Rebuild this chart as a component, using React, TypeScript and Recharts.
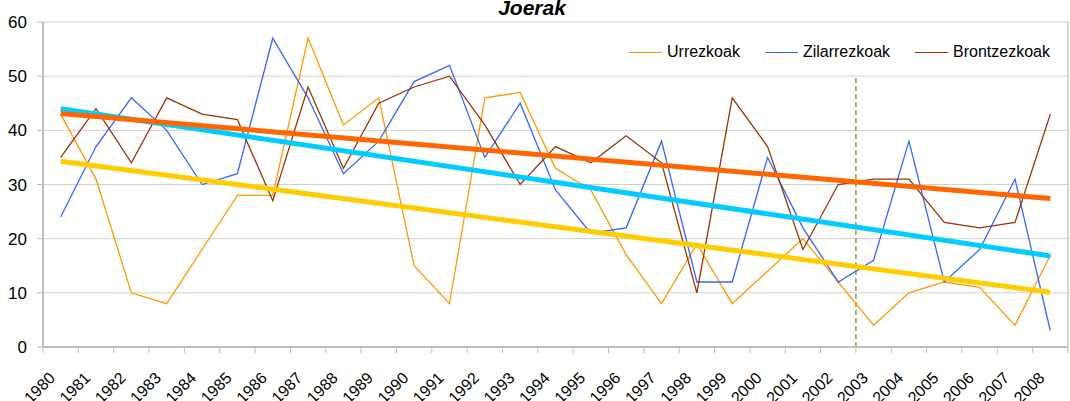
import {
  CartesianGrid,
  Legend,
  Line,
  LineChart,
  ReferenceLine,
  XAxis,
  YAxis,
} from "recharts";

const years = [
  "1980", "1981", "1982", "1983", "1984", "1985", "1986", "1987", "1988", "1989",
  "1990", "1991", "1992", "1993", "1994", "1995", "1996", "1997", "1998", "1999",
  "2000", "2001", "2002", "2003", "2004", "2005", "2006", "2007", "2008",
];
const seriesNames = ["Urrezkoak", "Zilarrezkoak", "Brontzezkoak"];
const urrezkoak = [43, 31, 10, 8, 18, 28, 28, 57, 41, 46, 15, 8, 46, 47, 33, 29, 17, 8, 19, 8, 14, 20, 12, 4, 10, 12, 11, 4, 17];
const zilarrezkoak = [24, 37, 46, 40, 30, 32, 57, 46, 32, 38, 49, 52, 35, 45, 29, 21, 22, 38, 12, 12, 35, 22, 12, 16, 38, 12, 18, 31, 3];
const brontzezkoak = [35, 44, 34, 46, 43, 42, 27, 48, 33, 45, 48, 50, 41, 30, 37, 34, 39, 34, 10, 46, 37, 18, 30, 31, 31, 23, 22, 23, 43];
// trend lines: value at first and last year
const trendUrre = [34.3, 10.1];
const trendZilar = [44.0, 16.8];
const trendBrontze = [43.1, 27.4];
const yTicks = [0, 10, 20, 30, 40, 50, 60];
const markerYear = "2003";

const FONT = "'Liberation Sans', Arial, sans-serif";
const last = years.length - 1;
const ends = (t: number[], i: number) => (i === 0 ? t[0] : i === last ? t[1] : null);

const data = years.map((year, i) => ({
  i,
  year,
  u: urrezkoak[i],
  z: zilarrezkoak[i],
  b: brontzezkoak[i],
  tu: ends(trendUrre, i),
  tz: ends(trendZilar, i),
  tb: ends(trendBrontze, i),
}));
const xTicks = [...years.map((_, i) => i - 0.5), last + 0.5];
const markerX = years.indexOf(markerYear) - 0.5;

function YearTick({ x, y, payload }: any) {
  const label = years[payload.value + 0.5];
  if (!label) return null;
  const ax = x + 13;
  const ay = y + 24;
  return (
    <text
      x={ax}
      y={ay}
      transform={`rotate(-45 ${ax} ${ay})`}
      textAnchor="end"
      fontSize={16}
      fontFamily={FONT}
      fill="#000"
    >
      {label}
    </text>
  );
}

function LegendBox({ payload }: any) {
  const items = (payload || [])
    .filter((p: any) => seriesNames.includes(p.value))
    .sort((a: any, b: any) => seriesNames.indexOf(a.value) - seriesNames.indexOf(b.value));
  return (
    <div style={{ display: "flex", fontFamily: FONT, fontSize: 16, lineHeight: "20px", color: "#000", whiteSpace: "nowrap" }}>
      {items.map((p: any, k: number) => (
        <div key={p.value} style={{ display: "flex", alignItems: "center", marginLeft: k ? 25 : 0 }}>
          <span style={{ width: 33, borderTop: `1.3px solid ${p.color}`, marginRight: 5 }} />
          <span>{p.value}</span>
        </div>
      ))}
    </div>
  );
}

export default function App() {
  return (
    <div style={{ position: "absolute", left: 0, top: 0, width: 1070, height: 401, background: "#fff" }}>
      <LineChart width={1070} height={401} data={data} margin={{ top: 22, right: 2, left: 0, bottom: 0 }}>
        <CartesianGrid vertical={false} stroke="#d0d0d0" />
        <XAxis
          type="number"
          dataKey="i"
          domain={[-0.5, last + 0.5]}
          ticks={xTicks}
          interval={0}
          height={54}
          tickSize={6}
          tick={<YearTick />}
          axisLine={{ stroke: "#bdbdbd", strokeWidth: 2 }}
          tickLine={{ stroke: "#bdbdbd" }}
        />
        <YAxis
          domain={[0, 60]}
          ticks={yTicks}
          width={43}
          tickSize={6}
          tickMargin={10}
          tick={{ fontSize: 17, fill: "#000", fontFamily: FONT }}
          axisLine={{ stroke: "#bdbdbd", strokeWidth: 2 }}
          tickLine={{ stroke: "#bdbdbd" }}
        />
        <ReferenceLine segment={[{ x: last + 0.5, y: 0 }, { x: last + 0.5, y: 60 }]} stroke="#c8c8c8" strokeWidth={1.5} />
        <ReferenceLine
          segment={[{ x: markerX, y: 0 }, { x: markerX, y: 50 }]}
          stroke="#7f7f1f"
          strokeWidth={1.2}
          strokeDasharray="5 3"
        />
        <Legend
          layout="vertical"
          align="center"
          verticalAlign="middle"
          content={<LegendBox />}
          wrapperStyle={{ top: 42, left: 629, width: 430, height: 20 }}
        />
        <Line name={seriesNames[0]} dataKey="u" type="linear" stroke="#ff9900" strokeWidth={1.3} dot={false} isAnimationActive={false} />
        <Line name={seriesNames[1]} dataKey="z" type="linear" stroke="#3366ff" strokeWidth={1.3} dot={false} isAnimationActive={false} />
        <Line name={seriesNames[2]} dataKey="b" type="linear" stroke="#993300" strokeWidth={1.3} dot={false} isAnimationActive={false} />
        <Line dataKey="tu" legendType="none" connectNulls stroke="#ffcc00" strokeWidth={5} dot={false} isAnimationActive={false} />
        <Line dataKey="tz" legendType="none" connectNulls stroke="#00ccff" strokeWidth={5} dot={false} isAnimationActive={false} />
        <Line dataKey="tb" legendType="none" connectNulls stroke="#ff6600" strokeWidth={5} dot={false} isAnimationActive={false} />
      </LineChart>
      <svg width={1070} height={401} style={{ position: "absolute", left: 0, top: 0, pointerEvents: "none" }}>
        <text x={532} y={15} textAnchor="middle" fontFamily={FONT} fontSize={21} fontWeight="bold" fontStyle="italic" fill="#000">
          Joerak
        </text>
      </svg>
    </div>
  );
}
